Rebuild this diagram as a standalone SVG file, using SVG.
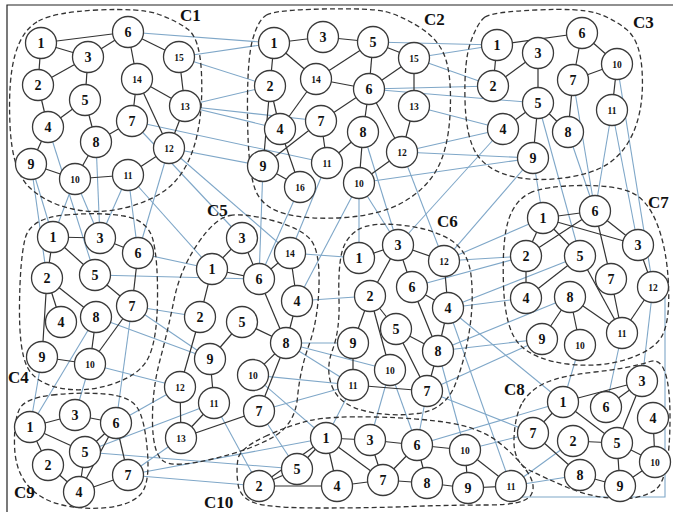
<svg xmlns="http://www.w3.org/2000/svg" width="673" height="512" viewBox="0 0 673 512">
<style>
.bl line,.bl path{stroke:#7fa7c8;stroke-width:1.1;fill:none}
.bk line{stroke:#333;stroke-width:1.2}
.cl{fill:none;stroke:#333;stroke-width:1.3;stroke-dasharray:5 3}
.n circle{fill:#fff;stroke:#3a3a3a;stroke-width:1.3}
.n text{font-family:"Liberation Serif","Times New Roman",serif;font-weight:bold;font-size:14px;text-anchor:middle;fill:#111}
.n text.s{font-size:9.5px}
.lab{font-family:"Liberation Serif","Times New Roman",serif;font-weight:bold;font-size:17px;fill:#111}
</style>
<rect width="673" height="512" fill="#fff"/>
<path d="M7,512 V5 H673" fill="none" stroke="#222" stroke-width="1.2"/>
<g id="connectors">
<g class="bl">
<line x1="128" y1="32" x2="274" y2="43"/><line x1="179" y1="57" x2="274" y2="43"/><line x1="179" y1="57" x2="270" y2="86"/><line x1="185" y1="106" x2="270" y2="86"/><line x1="185" y1="106" x2="321" y2="121"/><line x1="185" y1="106" x2="280" y2="129"/><line x1="132" y1="121" x2="327" y2="163"/><line x1="169" y1="148" x2="263" y2="166"/>
<line x1="31" y1="164" x2="47" y2="278"/><line x1="31" y1="164" x2="53" y2="237"/><line x1="75" y1="179" x2="53" y2="237"/><line x1="48" y1="127" x2="95" y2="275"/><line x1="75" y1="179" x2="100" y2="238"/><line x1="96" y1="142" x2="100" y2="238"/><line x1="128" y1="175" x2="100" y2="238"/><line x1="128" y1="175" x2="138" y2="253"/><line x1="169" y1="148" x2="138" y2="253"/>
<line x1="128" y1="175" x2="212" y2="269"/><line x1="169" y1="148" x2="290" y2="253"/><line x1="132" y1="121" x2="242" y2="238"/>
<line x1="373" y1="42" x2="497" y2="45"/><line x1="414" y1="58" x2="497" y2="45"/><line x1="414" y1="58" x2="493" y2="86"/><line x1="369" y1="89" x2="493" y2="86"/><line x1="369" y1="89" x2="538" y2="103"/><line x1="414" y1="106" x2="503" y2="129"/><line x1="402" y1="152" x2="503" y2="129"/><line x1="402" y1="152" x2="533" y2="158"/><line x1="359" y1="183" x2="533" y2="158"/>
<line x1="263" y1="166" x2="259" y2="279"/><line x1="300" y1="187" x2="259" y2="279"/><line x1="327" y1="163" x2="290" y2="253"/><line x1="359" y1="183" x2="297" y2="301"/>
<line x1="359" y1="183" x2="359" y2="258"/><line x1="359" y1="183" x2="398" y2="245"/><line x1="363" y1="132" x2="398" y2="245"/><line x1="402" y1="152" x2="444" y2="261"/>
<line x1="503" y1="129" x2="398" y2="245"/><line x1="533" y1="158" x2="444" y2="261"/>
<line x1="533" y1="158" x2="543" y2="218"/><line x1="538" y1="103" x2="580" y2="256"/><line x1="573" y1="80" x2="595" y2="211"/><line x1="568" y1="132" x2="595" y2="211"/><line x1="612" y1="110" x2="595" y2="211"/><line x1="612" y1="110" x2="638" y2="245"/><line x1="617" y1="64" x2="653" y2="287"/>
<line x1="138" y1="253" x2="212" y2="269"/><line x1="95" y1="275" x2="259" y2="279"/><line x1="132" y1="306" x2="200" y2="317"/><line x1="132" y1="306" x2="210" y2="359"/><line x1="96" y1="317" x2="210" y2="359"/><line x1="90" y1="364" x2="180" y2="387"/>
<line x1="30" y1="427" x2="42" y2="357"/><line x1="30" y1="427" x2="96" y2="317"/><line x1="116" y1="423" x2="132" y2="306"/><line x1="75" y1="415" x2="90" y2="364"/>
<line x1="290" y1="253" x2="359" y2="258"/><line x1="297" y1="301" x2="370" y2="296"/><line x1="286" y1="343" x2="353" y2="343"/><line x1="286" y1="343" x2="390" y2="370"/><line x1="286" y1="343" x2="353" y2="385"/><line x1="253" y1="375" x2="353" y2="385"/><line x1="259" y1="411" x2="353" y2="385"/>
<line x1="180" y1="387" x2="116" y2="423"/><line x1="214" y1="403" x2="85" y2="452"/><line x1="181" y1="438" x2="128" y2="475"/>
<line x1="259" y1="411" x2="297" y2="469"/><line x1="214" y1="403" x2="259" y2="486"/><line x1="253" y1="375" x2="326" y2="438"/>
<line x1="85" y1="452" x2="297" y2="469"/><line x1="128" y1="475" x2="326" y2="438"/><line x1="128" y1="475" x2="259" y2="486"/>
<line x1="444" y1="261" x2="543" y2="218"/><line x1="444" y1="261" x2="526" y2="256"/><line x1="412" y1="287" x2="526" y2="256"/><line x1="448" y1="308" x2="580" y2="256"/><line x1="448" y1="308" x2="526" y2="298"/><line x1="438" y1="351" x2="570" y2="297"/><line x1="438" y1="351" x2="542" y2="339"/><line x1="427" y1="391" x2="542" y2="339"/>
<line x1="353" y1="385" x2="326" y2="438"/><line x1="390" y1="370" x2="370" y2="440"/><line x1="390" y1="370" x2="417" y2="445"/><line x1="427" y1="391" x2="417" y2="445"/><line x1="438" y1="351" x2="465" y2="450"/><line x1="448" y1="308" x2="511" y2="486"/>
<line x1="427" y1="391" x2="533" y2="433"/><line x1="448" y1="308" x2="563" y2="402"/>
<line x1="580" y1="345" x2="563" y2="402"/><line x1="622" y1="333" x2="606" y2="407"/><line x1="653" y1="287" x2="642" y2="381"/>
<line x1="533" y1="433" x2="465" y2="450"/><line x1="563" y1="402" x2="417" y2="445"/><line x1="573" y1="441" x2="511" y2="486"/><line x1="580" y1="475" x2="511" y2="486"/>
<path d="M665,295 V497 H520"/>
</g>
<g class="bk">
<line x1="41" y1="43" x2="128" y2="32"/><line x1="41" y1="43" x2="88" y2="57"/><line x1="88" y1="57" x2="128" y2="32"/><line x1="41" y1="43" x2="38" y2="85"/><line x1="38" y1="85" x2="88" y2="57"/><line x1="88" y1="57" x2="85" y2="100"/><line x1="85" y1="100" x2="48" y2="127"/><line x1="38" y1="85" x2="48" y2="127"/><line x1="48" y1="127" x2="31" y2="164"/><line x1="128" y1="32" x2="137" y2="79"/><line x1="128" y1="32" x2="179" y2="57"/><line x1="137" y1="79" x2="185" y2="106"/><line x1="179" y1="57" x2="185" y2="106"/><line x1="137" y1="79" x2="132" y2="121"/><line x1="137" y1="79" x2="169" y2="148"/><line x1="185" y1="106" x2="169" y2="148"/><line x1="85" y1="100" x2="96" y2="142"/><line x1="132" y1="121" x2="96" y2="142"/><line x1="96" y1="142" x2="75" y2="179"/><line x1="31" y1="164" x2="75" y2="179"/><line x1="75" y1="179" x2="128" y2="175"/><line x1="128" y1="175" x2="169" y2="148"/>
<line x1="274" y1="43" x2="323" y2="37"/><line x1="323" y1="37" x2="373" y2="42"/><line x1="274" y1="43" x2="270" y2="86"/><line x1="274" y1="43" x2="316" y2="79"/><line x1="373" y1="42" x2="316" y2="79"/><line x1="373" y1="42" x2="369" y2="89"/><line x1="373" y1="42" x2="414" y2="58"/><line x1="414" y1="58" x2="369" y2="89"/><line x1="414" y1="58" x2="414" y2="106"/><line x1="316" y1="79" x2="369" y2="89"/><line x1="316" y1="79" x2="280" y2="129"/><line x1="270" y1="86" x2="280" y2="129"/><line x1="270" y1="86" x2="263" y2="166"/><line x1="369" y1="89" x2="321" y2="121"/><line x1="369" y1="89" x2="363" y2="132"/><line x1="369" y1="89" x2="402" y2="152"/><line x1="414" y1="106" x2="402" y2="152"/><line x1="321" y1="121" x2="263" y2="166"/><line x1="321" y1="121" x2="327" y2="163"/><line x1="280" y1="129" x2="300" y2="187"/><line x1="263" y1="166" x2="300" y2="187"/><line x1="363" y1="132" x2="327" y2="163"/><line x1="363" y1="132" x2="359" y2="183"/><line x1="359" y1="183" x2="402" y2="152"/>
<line x1="497" y1="45" x2="582" y2="33"/><line x1="497" y1="45" x2="493" y2="86"/><line x1="493" y1="86" x2="538" y2="53"/><line x1="538" y1="53" x2="538" y2="103"/><line x1="582" y1="33" x2="573" y2="80"/><line x1="582" y1="33" x2="617" y2="64"/><line x1="573" y1="80" x2="617" y2="64"/><line x1="617" y1="64" x2="612" y2="110"/><line x1="538" y1="103" x2="503" y2="129"/><line x1="538" y1="103" x2="568" y2="132"/><line x1="538" y1="103" x2="533" y2="158"/><line x1="573" y1="80" x2="568" y2="132"/>
<line x1="53" y1="237" x2="100" y2="238"/><line x1="53" y1="237" x2="95" y2="275"/><line x1="100" y1="238" x2="138" y2="253"/><line x1="53" y1="237" x2="47" y2="278"/><line x1="47" y1="278" x2="96" y2="317"/><line x1="47" y1="278" x2="61" y2="322"/><line x1="47" y1="278" x2="42" y2="357"/><line x1="95" y1="275" x2="132" y2="306"/><line x1="138" y1="253" x2="132" y2="306"/><line x1="96" y1="317" x2="90" y2="364"/><line x1="132" y1="306" x2="90" y2="364"/><line x1="42" y1="357" x2="90" y2="364"/>
<line x1="212" y1="269" x2="242" y2="238"/><line x1="242" y1="238" x2="259" y2="279"/><line x1="212" y1="269" x2="259" y2="279"/><line x1="259" y1="279" x2="290" y2="253"/><line x1="259" y1="279" x2="286" y2="343"/><line x1="290" y1="253" x2="297" y2="301"/><line x1="297" y1="301" x2="286" y2="343"/><line x1="242" y1="322" x2="286" y2="343"/><line x1="212" y1="269" x2="200" y2="317"/><line x1="200" y1="317" x2="180" y2="387"/><line x1="180" y1="387" x2="181" y2="438"/><line x1="214" y1="403" x2="181" y2="438"/><line x1="210" y1="359" x2="214" y2="403"/><line x1="210" y1="359" x2="242" y2="322"/><line x1="181" y1="438" x2="259" y2="411"/><line x1="259" y1="411" x2="286" y2="343"/><line x1="253" y1="375" x2="286" y2="343"/>
<line x1="359" y1="258" x2="398" y2="245"/><line x1="398" y1="245" x2="444" y2="261"/><line x1="398" y1="245" x2="370" y2="296"/><line x1="398" y1="245" x2="412" y2="287"/><line x1="370" y1="296" x2="353" y2="343"/><line x1="370" y1="296" x2="396" y2="329"/><line x1="370" y1="296" x2="390" y2="370"/><line x1="412" y1="287" x2="448" y2="308"/><line x1="412" y1="287" x2="438" y2="351"/><line x1="444" y1="261" x2="448" y2="308"/><line x1="448" y1="308" x2="438" y2="351"/><line x1="396" y1="329" x2="438" y2="351"/><line x1="396" y1="329" x2="427" y2="391"/><line x1="353" y1="343" x2="353" y2="385"/><line x1="353" y1="385" x2="427" y2="391"/><line x1="438" y1="351" x2="427" y2="391"/>
<line x1="543" y1="218" x2="595" y2="211"/><line x1="543" y1="218" x2="638" y2="245"/><line x1="543" y1="218" x2="526" y2="256"/><line x1="543" y1="218" x2="580" y2="256"/><line x1="595" y1="211" x2="526" y2="256"/><line x1="595" y1="211" x2="638" y2="245"/><line x1="595" y1="211" x2="611" y2="279"/><line x1="526" y1="256" x2="526" y2="298"/><line x1="580" y1="256" x2="526" y2="298"/><line x1="580" y1="256" x2="622" y2="333"/><line x1="611" y1="279" x2="622" y2="333"/><line x1="638" y1="245" x2="653" y2="287"/><line x1="653" y1="287" x2="622" y2="333"/><line x1="570" y1="297" x2="542" y2="339"/><line x1="570" y1="297" x2="622" y2="333"/><line x1="570" y1="297" x2="580" y2="345"/>
<line x1="563" y1="402" x2="642" y2="381"/><line x1="642" y1="381" x2="606" y2="407"/><line x1="642" y1="381" x2="617" y2="443"/><line x1="563" y1="402" x2="533" y2="433"/><line x1="563" y1="402" x2="617" y2="443"/><line x1="573" y1="441" x2="617" y2="443"/><line x1="653" y1="418" x2="655" y2="462"/><line x1="617" y1="443" x2="655" y2="462"/><line x1="617" y1="443" x2="620" y2="486"/><line x1="655" y1="462" x2="620" y2="486"/><line x1="533" y1="433" x2="580" y2="475"/><line x1="580" y1="475" x2="620" y2="486"/>
<line x1="30" y1="427" x2="75" y2="415"/><line x1="75" y1="415" x2="116" y2="423"/><line x1="30" y1="427" x2="85" y2="452"/><line x1="30" y1="427" x2="48" y2="465"/><line x1="48" y1="465" x2="79" y2="492"/><line x1="85" y1="452" x2="116" y2="423"/><line x1="85" y1="452" x2="79" y2="492"/><line x1="116" y1="423" x2="79" y2="492"/><line x1="116" y1="423" x2="128" y2="475"/><line x1="128" y1="475" x2="79" y2="492"/>
<line x1="326" y1="438" x2="370" y2="440"/><line x1="326" y1="438" x2="297" y2="469"/><line x1="326" y1="438" x2="259" y2="486"/><line x1="326" y1="438" x2="337" y2="486"/><line x1="326" y1="438" x2="383" y2="480"/><line x1="370" y1="440" x2="383" y2="480"/><line x1="370" y1="440" x2="417" y2="445"/><line x1="417" y1="445" x2="383" y2="480"/><line x1="417" y1="445" x2="427" y2="483"/><line x1="383" y1="480" x2="427" y2="483"/><line x1="337" y1="486" x2="383" y2="480"/><line x1="259" y1="486" x2="337" y2="486"/><line x1="259" y1="486" x2="297" y2="469"/><line x1="417" y1="445" x2="465" y2="450"/><line x1="465" y1="450" x2="468" y2="488"/><line x1="468" y1="488" x2="511" y2="486"/><line x1="427" y1="483" x2="468" y2="488"/><line x1="465" y1="450" x2="511" y2="486"/>
</g>
</g>
<g id="clusters">
<path class="cl" d="M38.5,21 Q55,12 97.5,10 Q140,8 157.5,14 Q175,20 187.5,29 Q200,38 201.5,74 Q203,110 196.5,137.5 Q190,165 175,181.5 Q160,198 130,206.5 Q100,215 72.5,209 Q45,203 28.5,186.5 Q12,170 10,125 Q8,80 15,55 Q22,30 38.5,21 Z"/>
<path class="cl" d="M266.5,15 Q275,10 322.5,9 Q370,8 385,11.5 Q400,15 420,27.5 Q440,40 446,60 Q452,80 450,115 Q448,150 436.5,170 Q425,190 402.5,202.5 Q380,215 345,217.5 Q310,220 286,214 Q262,208 255,189 Q248,170 247.5,115 Q247,60 252.5,40 Q258,20 266.5,15 Z"/>
<path class="cl" d="M485,17 Q492,12 536,10 Q580,8 596,13 Q612,18 626,29 Q640,40 642,70 Q644,100 637,122.5 Q630,145 615,158.5 Q600,172 570,177 Q540,182 515,177 Q490,172 478,156 Q466,140 465,100 Q464,60 471,41 Q478,22 485,17 Z"/>
<path class="cl" d="M65,215 Q100,212 124,216 Q148,220 153,240 Q158,260 157.5,300 Q157,340 148.5,357.5 Q140,375 112.5,384 Q85,393 60,388 Q35,383 27,366.5 Q19,350 19.5,305 Q20,260 25,239 Q30,218 65,215 Z"/>
<path class="cl" d="M230,215.5 Q245,213 272.5,220.5 Q300,228 310,239 Q320,250 319,285 Q318,320 309,345 Q300,370 297.5,397.5 Q295,425 272.5,437.5 Q250,450 212.5,459 Q175,468 164,461.5 Q153,455 152.5,422.5 Q152,390 160,360 Q168,330 174,300 Q180,270 197.5,244 Q215,218 230,215.5 Z"/>
<path class="cl" d="M357.5,230 Q370,222 400,225 Q430,228 449,239 Q468,250 471,275 Q474,300 469.5,330 Q465,360 455,385 Q445,410 417.5,413.5 Q390,417 365,411 Q340,405 332.5,387.5 Q325,370 332.5,350 Q340,330 339,300 Q338,270 341.5,254 Q345,238 357.5,230 Z"/>
<path class="cl" d="M530,193 Q545,186 580,185.5 Q615,185 631.5,192.5 Q648,200 657.5,225 Q667,250 668.5,285 Q670,320 662.5,335 Q655,350 627.5,359 Q600,368 567.5,364 Q535,360 520,345 Q505,330 503.5,285 Q502,240 508.5,220 Q515,200 530,193 Z"/>
<path class="cl" d="M522.5,402.5 Q530,390 545,383 Q560,376 595,372 Q630,368 650,361.5 Q670,355 670,417.5 Q670,480 655,490 Q640,500 615,498.5 Q590,497 567.5,487.5 Q545,478 529,470 Q513,462 514,438.5 Q515,415 522.5,402.5 Z"/>
<path class="cl" d="M52.5,395 Q80,392 105,394 Q130,396 137.5,408 Q145,420 147.5,452.5 Q150,485 140,495 Q130,505 107.5,507.5 Q85,510 62.5,505 Q40,500 27.5,485 Q15,470 14.5,445 Q14,420 19.5,409 Q25,398 52.5,395 Z"/>
<path class="cl" d="M265,436.5 Q290,425 310,420.5 Q330,416 375,417 Q420,418 450,423 Q480,428 497.5,441.5 Q515,455 526,470 Q537,485 531,495 Q525,505 487.5,505 Q450,505 410,506.5 Q370,508 320,508 Q270,508 255,503 Q240,498 238,484 Q236,470 238,459 Q240,448 265,436.5 Z"/>
</g>
<g id="labels">
<text class="lab" x="180" y="21">C1</text>
<text class="lab" x="424" y="25">C2</text>
<text class="lab" x="633" y="28">C3</text>
<text class="lab" x="8" y="383">C4</text>
<text class="lab" x="207" y="216">C5</text>
<text class="lab" x="437" y="227">C6</text>
<text class="lab" x="648" y="208">C7</text>
<text class="lab" x="504" y="395">C8</text>
<text class="lab" x="14" y="498">C9</text>
<text class="lab" x="204" y="508">C10</text>
</g>
<g id="c1">
<g id="c1-1" class="n"><circle cx="41" cy="43" r="15.5"/><text x="41" y="48">1</text></g>
<g id="c1-2" class="n"><circle cx="38" cy="85" r="15.5"/><text x="38" y="90">2</text></g>
<g id="c1-3" class="n"><circle cx="88" cy="57" r="15.5"/><text x="88" y="62">3</text></g>
<g id="c1-4" class="n"><circle cx="48" cy="127" r="15.5"/><text x="48" y="132">4</text></g>
<g id="c1-5" class="n"><circle cx="85" cy="100" r="15.5"/><text x="85" y="105">5</text></g>
<g id="c1-6" class="n"><circle cx="128" cy="32" r="15.5"/><text x="128" y="37">6</text></g>
<g id="c1-7" class="n"><circle cx="132" cy="121" r="15.5"/><text x="132" y="126">7</text></g>
<g id="c1-8" class="n"><circle cx="96" cy="142" r="15.5"/><text x="96" y="147">8</text></g>
<g id="c1-9" class="n"><circle cx="31" cy="164" r="15.5"/><text x="31" y="169">9</text></g>
<g id="c1-10" class="n"><circle cx="75" cy="179" r="15.5"/><text class="s" x="75" y="182.5">10</text></g>
<g id="c1-11" class="n"><circle cx="128" cy="175" r="15.5"/><text class="s" x="128" y="178.5">11</text></g>
<g id="c1-12" class="n"><circle cx="169" cy="148" r="15.5"/><text class="s" x="169" y="151.5">12</text></g>
<g id="c1-13" class="n"><circle cx="185" cy="106" r="15.5"/><text class="s" x="185" y="109.5">13</text></g>
<g id="c1-14" class="n"><circle cx="137" cy="79" r="15.5"/><text class="s" x="137" y="82.5">14</text></g>
<g id="c1-15" class="n"><circle cx="179" cy="57" r="15.5"/><text class="s" x="179" y="60.5">15</text></g>
</g>
<g id="c2">
<g id="c2-1" class="n"><circle cx="274" cy="43" r="15.5"/><text x="274" y="48">1</text></g>
<g id="c2-2" class="n"><circle cx="270" cy="86" r="15.5"/><text x="270" y="91">2</text></g>
<g id="c2-3" class="n"><circle cx="323" cy="37" r="15.5"/><text x="323" y="42">3</text></g>
<g id="c2-4" class="n"><circle cx="280" cy="129" r="15.5"/><text x="280" y="134">4</text></g>
<g id="c2-5" class="n"><circle cx="373" cy="42" r="15.5"/><text x="373" y="47">5</text></g>
<g id="c2-6" class="n"><circle cx="369" cy="89" r="15.5"/><text x="369" y="94">6</text></g>
<g id="c2-7" class="n"><circle cx="321" cy="121" r="15.5"/><text x="321" y="126">7</text></g>
<g id="c2-8" class="n"><circle cx="363" cy="132" r="15.5"/><text x="363" y="137">8</text></g>
<g id="c2-9" class="n"><circle cx="263" cy="166" r="15.5"/><text x="263" y="171">9</text></g>
<g id="c2-10" class="n"><circle cx="359" cy="183" r="15.5"/><text class="s" x="359" y="186.5">10</text></g>
<g id="c2-11" class="n"><circle cx="327" cy="163" r="15.5"/><text class="s" x="327" y="166.5">11</text></g>
<g id="c2-12" class="n"><circle cx="402" cy="152" r="15.5"/><text class="s" x="402" y="155.5">12</text></g>
<g id="c2-13" class="n"><circle cx="414" cy="106" r="15.5"/><text class="s" x="414" y="109.5">13</text></g>
<g id="c2-14" class="n"><circle cx="316" cy="79" r="15.5"/><text class="s" x="316" y="82.5">14</text></g>
<g id="c2-15" class="n"><circle cx="414" cy="58" r="15.5"/><text class="s" x="414" y="61.5">15</text></g>
<g id="c2-16" class="n"><circle cx="300" cy="187" r="15.5"/><text class="s" x="300" y="190.5">16</text></g>
</g>
<g id="c3">
<g id="c3-1" class="n"><circle cx="497" cy="45" r="15.5"/><text x="497" y="50">1</text></g>
<g id="c3-2" class="n"><circle cx="493" cy="86" r="15.5"/><text x="493" y="91">2</text></g>
<g id="c3-3" class="n"><circle cx="538" cy="53" r="15.5"/><text x="538" y="58">3</text></g>
<g id="c3-4" class="n"><circle cx="503" cy="129" r="15.5"/><text x="503" y="134">4</text></g>
<g id="c3-5" class="n"><circle cx="538" cy="103" r="15.5"/><text x="538" y="108">5</text></g>
<g id="c3-6" class="n"><circle cx="582" cy="33" r="15.5"/><text x="582" y="38">6</text></g>
<g id="c3-7" class="n"><circle cx="573" cy="80" r="15.5"/><text x="573" y="85">7</text></g>
<g id="c3-8" class="n"><circle cx="568" cy="132" r="15.5"/><text x="568" y="137">8</text></g>
<g id="c3-9" class="n"><circle cx="533" cy="158" r="15.5"/><text x="533" y="163">9</text></g>
<g id="c3-10" class="n"><circle cx="617" cy="64" r="15.5"/><text class="s" x="617" y="67.5">10</text></g>
<g id="c3-11" class="n"><circle cx="612" cy="110" r="15.5"/><text class="s" x="612" y="113.5">11</text></g>
</g>
<g id="c4">
<g id="c4-1" class="n"><circle cx="53" cy="237" r="15.5"/><text x="53" y="242">1</text></g>
<g id="c4-2" class="n"><circle cx="47" cy="278" r="15.5"/><text x="47" y="283">2</text></g>
<g id="c4-3" class="n"><circle cx="100" cy="238" r="15.5"/><text x="100" y="243">3</text></g>
<g id="c4-4" class="n"><circle cx="61" cy="322" r="15.5"/><text x="61" y="327">4</text></g>
<g id="c4-5" class="n"><circle cx="95" cy="275" r="15.5"/><text x="95" y="280">5</text></g>
<g id="c4-6" class="n"><circle cx="138" cy="253" r="15.5"/><text x="138" y="258">6</text></g>
<g id="c4-7" class="n"><circle cx="132" cy="306" r="15.5"/><text x="132" y="311">7</text></g>
<g id="c4-8" class="n"><circle cx="96" cy="317" r="15.5"/><text x="96" y="322">8</text></g>
<g id="c4-9" class="n"><circle cx="42" cy="357" r="15.5"/><text x="42" y="362">9</text></g>
<g id="c4-10" class="n"><circle cx="90" cy="364" r="15.5"/><text class="s" x="90" y="367.5">10</text></g>
</g>
<g id="c5">
<g id="c5-1" class="n"><circle cx="212" cy="269" r="15.5"/><text x="212" y="274">1</text></g>
<g id="c5-2" class="n"><circle cx="200" cy="317" r="15.5"/><text x="200" y="322">2</text></g>
<g id="c5-3" class="n"><circle cx="242" cy="238" r="15.5"/><text x="242" y="243">3</text></g>
<g id="c5-4" class="n"><circle cx="297" cy="301" r="15.5"/><text x="297" y="306">4</text></g>
<g id="c5-5" class="n"><circle cx="242" cy="322" r="15.5"/><text x="242" y="327">5</text></g>
<g id="c5-6" class="n"><circle cx="259" cy="279" r="15.5"/><text x="259" y="284">6</text></g>
<g id="c5-7" class="n"><circle cx="259" cy="411" r="15.5"/><text x="259" y="416">7</text></g>
<g id="c5-8" class="n"><circle cx="286" cy="343" r="15.5"/><text x="286" y="348">8</text></g>
<g id="c5-9" class="n"><circle cx="210" cy="359" r="15.5"/><text x="210" y="364">9</text></g>
<g id="c5-10" class="n"><circle cx="253" cy="375" r="15.5"/><text class="s" x="253" y="378.5">10</text></g>
<g id="c5-11" class="n"><circle cx="214" cy="403" r="15.5"/><text class="s" x="214" y="406.5">11</text></g>
<g id="c5-12" class="n"><circle cx="180" cy="387" r="15.5"/><text class="s" x="180" y="390.5">12</text></g>
<g id="c5-13" class="n"><circle cx="181" cy="438" r="15.5"/><text class="s" x="181" y="441.5">13</text></g>
<g id="c5-14" class="n"><circle cx="290" cy="253" r="15.5"/><text class="s" x="290" y="256.5">14</text></g>
</g>
<g id="c6">
<g id="c6-1" class="n"><circle cx="359" cy="258" r="15.5"/><text x="359" y="263">1</text></g>
<g id="c6-2" class="n"><circle cx="370" cy="296" r="15.5"/><text x="370" y="301">2</text></g>
<g id="c6-3" class="n"><circle cx="398" cy="245" r="15.5"/><text x="398" y="250">3</text></g>
<g id="c6-4" class="n"><circle cx="448" cy="308" r="15.5"/><text x="448" y="313">4</text></g>
<g id="c6-5" class="n"><circle cx="396" cy="329" r="15.5"/><text x="396" y="334">5</text></g>
<g id="c6-6" class="n"><circle cx="412" cy="287" r="15.5"/><text x="412" y="292">6</text></g>
<g id="c6-7" class="n"><circle cx="427" cy="391" r="15.5"/><text x="427" y="396">7</text></g>
<g id="c6-8" class="n"><circle cx="438" cy="351" r="15.5"/><text x="438" y="356">8</text></g>
<g id="c6-9" class="n"><circle cx="353" cy="343" r="15.5"/><text x="353" y="348">9</text></g>
<g id="c6-10" class="n"><circle cx="390" cy="370" r="15.5"/><text class="s" x="390" y="373.5">10</text></g>
<g id="c6-11" class="n"><circle cx="353" cy="385" r="15.5"/><text class="s" x="353" y="388.5">11</text></g>
<g id="c6-12" class="n"><circle cx="444" cy="261" r="15.5"/><text class="s" x="444" y="264.5">12</text></g>
</g>
<g id="c7">
<g id="c7-1" class="n"><circle cx="543" cy="218" r="15.5"/><text x="543" y="223">1</text></g>
<g id="c7-2" class="n"><circle cx="526" cy="256" r="15.5"/><text x="526" y="261">2</text></g>
<g id="c7-3" class="n"><circle cx="638" cy="245" r="15.5"/><text x="638" y="250">3</text></g>
<g id="c7-4" class="n"><circle cx="526" cy="298" r="15.5"/><text x="526" y="303">4</text></g>
<g id="c7-5" class="n"><circle cx="580" cy="256" r="15.5"/><text x="580" y="261">5</text></g>
<g id="c7-6" class="n"><circle cx="595" cy="211" r="15.5"/><text x="595" y="216">6</text></g>
<g id="c7-7" class="n"><circle cx="611" cy="279" r="15.5"/><text x="611" y="284">7</text></g>
<g id="c7-8" class="n"><circle cx="570" cy="297" r="15.5"/><text x="570" y="302">8</text></g>
<g id="c7-9" class="n"><circle cx="542" cy="339" r="15.5"/><text x="542" y="344">9</text></g>
<g id="c7-10" class="n"><circle cx="580" cy="345" r="15.5"/><text class="s" x="580" y="348.5">10</text></g>
<g id="c7-11" class="n"><circle cx="622" cy="333" r="15.5"/><text class="s" x="622" y="336.5">11</text></g>
<g id="c7-12" class="n"><circle cx="653" cy="287" r="15.5"/><text class="s" x="653" y="290.5">12</text></g>
</g>
<g id="c8">
<g id="c8-1" class="n"><circle cx="563" cy="402" r="15.5"/><text x="563" y="407">1</text></g>
<g id="c8-2" class="n"><circle cx="573" cy="441" r="15.5"/><text x="573" y="446">2</text></g>
<g id="c8-3" class="n"><circle cx="642" cy="381" r="15.5"/><text x="642" y="386">3</text></g>
<g id="c8-4" class="n"><circle cx="653" cy="418" r="15.5"/><text x="653" y="423">4</text></g>
<g id="c8-5" class="n"><circle cx="617" cy="443" r="15.5"/><text x="617" y="448">5</text></g>
<g id="c8-6" class="n"><circle cx="606" cy="407" r="15.5"/><text x="606" y="412">6</text></g>
<g id="c8-7" class="n"><circle cx="533" cy="433" r="15.5"/><text x="533" y="438">7</text></g>
<g id="c8-8" class="n"><circle cx="580" cy="475" r="15.5"/><text x="580" y="480">8</text></g>
<g id="c8-9" class="n"><circle cx="620" cy="486" r="15.5"/><text x="620" y="491">9</text></g>
<g id="c8-10" class="n"><circle cx="655" cy="462" r="15.5"/><text class="s" x="655" y="465.5">10</text></g>
</g>
<g id="c9">
<g id="c9-1" class="n"><circle cx="30" cy="427" r="15.5"/><text x="30" y="432">1</text></g>
<g id="c9-2" class="n"><circle cx="48" cy="465" r="15.5"/><text x="48" y="470">2</text></g>
<g id="c9-3" class="n"><circle cx="75" cy="415" r="15.5"/><text x="75" y="420">3</text></g>
<g id="c9-4" class="n"><circle cx="79" cy="492" r="15.5"/><text x="79" y="497">4</text></g>
<g id="c9-5" class="n"><circle cx="85" cy="452" r="15.5"/><text x="85" y="457">5</text></g>
<g id="c9-6" class="n"><circle cx="116" cy="423" r="15.5"/><text x="116" y="428">6</text></g>
<g id="c9-7" class="n"><circle cx="128" cy="475" r="15.5"/><text x="128" y="480">7</text></g>
</g>
<g id="c10">
<g id="c10-1" class="n"><circle cx="326" cy="438" r="15.5"/><text x="326" y="443">1</text></g>
<g id="c10-2" class="n"><circle cx="259" cy="486" r="15.5"/><text x="259" y="491">2</text></g>
<g id="c10-3" class="n"><circle cx="370" cy="440" r="15.5"/><text x="370" y="445">3</text></g>
<g id="c10-4" class="n"><circle cx="337" cy="486" r="15.5"/><text x="337" y="491">4</text></g>
<g id="c10-5" class="n"><circle cx="297" cy="469" r="15.5"/><text x="297" y="474">5</text></g>
<g id="c10-6" class="n"><circle cx="417" cy="445" r="15.5"/><text x="417" y="450">6</text></g>
<g id="c10-7" class="n"><circle cx="383" cy="480" r="15.5"/><text x="383" y="485">7</text></g>
<g id="c10-8" class="n"><circle cx="427" cy="483" r="15.5"/><text x="427" y="488">8</text></g>
<g id="c10-9" class="n"><circle cx="468" cy="488" r="15.5"/><text x="468" y="493">9</text></g>
<g id="c10-10" class="n"><circle cx="465" cy="450" r="15.5"/><text class="s" x="465" y="453.5">10</text></g>
<g id="c10-11" class="n"><circle cx="511" cy="486" r="15.5"/><text class="s" x="511" y="489.5">11</text></g>
</g>
</svg>
